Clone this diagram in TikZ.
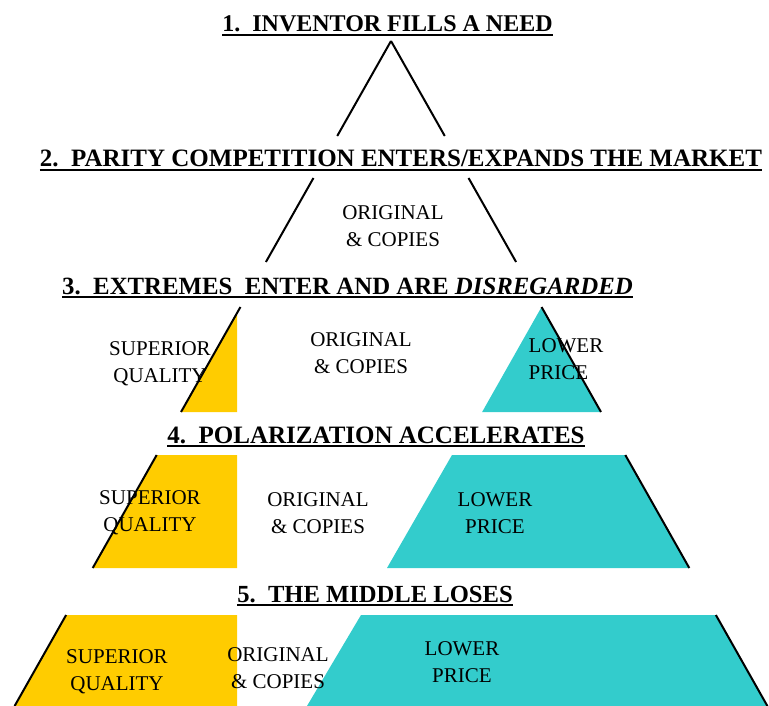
\documentclass[tikz,border=0pt]{standalone}
\usepackage{fontspec}
\setmainfont{Liberation Serif}

\definecolor{qualityfill}{HTML}{FFCC00}
\definecolor{pricefill}{HTML}{33CCCC}

\begin{document}
\begin{tikzpicture}[
    x=1pt, y=-1pt,
    declare function={xl(\t)=391-0.566*(\t-41); xr(\t)=391+0.566*(\t-41);},
    heading/.style={anchor=base, inner sep=0pt, font=\fontsize{#1}{28}\selectfont\bfseries},
    underln/.style={line width=2pt},
    blurb/.style={align=center, inner sep=0pt, font=\fontsize{21}{27}\selectfont},
    rim/.style={black, line width=2pt},
    quality/.style={fill=qualityfill},
    price/.style={fill=pricefill}
]
\useasboundingbox (0,0) rectangle (769,706);

% -------- Colour blocks --------
% stage 3
\fill[quality] (237,{41+(391-237)/0.566}) -- (237,412) -- ({xl(412)},412) -- cycle;
\fill[price] ({xr(307)},307) -- ({xr(412)},412) -- ({xr(307)-0.566*105},412) -- cycle;
% stage 4
\fill[quality] ({xl(455)},455) -- (237,455) -- (237,568) -- ({xl(568)},568) -- cycle;
\fill[price] (452,455) -- ({xr(455)},455) -- ({xr(568)},568) -- (387,568) -- cycle;
% stage 5
\fill[quality] ({xl(615)},615) -- (237,615) -- (237,706) -- ({xl(706)},706) -- cycle;
\fill[price] (361,615) -- ({xr(615)},615) -- ({xr(706)},706) -- (307,706) -- cycle;

% -------- Pyramid sides --------
\foreach \a/\b in {41/136, 178/262, 307/412, 455/568, 615/706} {
    \draw[rim] ({xl(\a)},\a) -- ({xl(\b)},\b);
    \draw[rim] ({xr(\a)},\a) -- ({xr(\b)},\b);
}

% -------- Stage headings --------
\foreach \n/\fs/\x/\y/\txt in {
    s1/24/387.5/32/{1.\ \ INVENTOR FILLS A NEED},
    s2/25/401/167/{2.\ \ PARITY COMPETITION ENTERS/EXPANDS THE MARKET},
    s3/24.8/347.5/294/{3.\ \ EXTREMES\ \ ENTER AND ARE \textit{DISREGARDED}},
    s4/25/376/443/{4.\ \ POLARIZATION ACCELERATES},
    s5/24.6/375/602/{5.\ \ THE MIDDLE LOSES}} {
    \node[heading=\fs] (\n) at (\x,\y) {\txt};
    \draw[underln] ([yshift=-3pt]\n.base west) -- ([yshift=-3pt]\n.base east);
}

% -------- Segment labels --------
\node[blurb] (orig2) at (393,226) {ORIGINAL\\\& COPIES};

\node[blurb] (sup3) at (160,364) {SUPERIOR\\QUALITY};
\node[blurb] (orig3) at (361,353) {ORIGINAL\\\& COPIES};
\node[blurb, align=left] (low3) at (566,359) {LOWER\\PRICE};

\node[blurb] (sup4) at (150,513) {SUPERIOR\\QUALITY};
\node[blurb] (orig4) at (318,513) {ORIGINAL\\\& COPIES};
\node[blurb] (low4) at (495,513) {LOWER\\PRICE};

\node[blurb] (sup5) at (117,672) {SUPERIOR\\QUALITY};
\node[blurb] (orig5) at (278,668) {ORIGINAL\\\& COPIES};
\node[blurb] (low5) at (462,662) {LOWER\\PRICE};

\end{tikzpicture}
\end{document}
